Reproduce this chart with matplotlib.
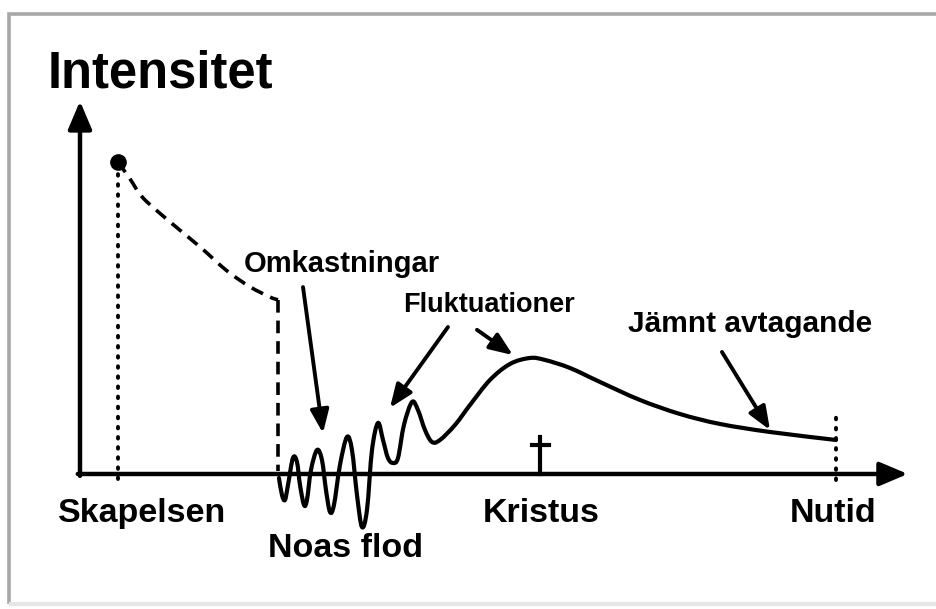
import numpy as np
import matplotlib
matplotlib.use('Agg')
import matplotlib.pyplot as plt
from matplotlib.patches import Rectangle, PathPatch
from matplotlib.path import Path

# time axis: 0 = Skapelsen, 100 = Nutid ; intensity: 0 = baseline
decay_t = [0.0, 1.67, 3.48, 7.24, 11.42, 15.18, 18.38, 21.17, 22.28]
decay_i = [100.0, 94.6, 88.5, 80.8, 72.8, 65.1, 60.0, 56.7, 55.8]

curve_t = [22.42, 22.84, 23.26, 23.68, 24.37, 24.93, 25.35, 25.91, 26.32, 26.88,
           27.72, 28.41, 28.97, 29.53, 30.08, 30.92, 31.89, 32.59, 33.29, 33.98,
           34.68, 35.38, 36.21, 36.91, 37.60, 38.30, 39.00, 39.83, 40.95, 41.78,
           42.76, 43.73, 44.85, 46.94, 49.03, 51.81, 54.60, 57.38, 59.47, 62.95,
           67.13, 72.70, 78.27, 83.84, 90.81, 100.0]
curve_i = [-1.28, -6.73, -8.33, -3.53, 5.13, 3.85, -3.53, -9.94, -8.33, 1.28,
           7.69, 4.49, -5.13, -12.18, -9.94, 2.88, 11.86, 7.69, -6.73, -16.99,
           -11.54, 7.69, 16.35, 10.90, 5.13, 3.53, 5.13, 15.71, 23.08, 20.51,
           14.10, 10.26, 10.90, 15.71, 22.12, 30.13, 35.26, 37.18, 36.54, 33.97,
           29.49, 23.72, 19.23, 16.03, 13.46, 10.90]

epoch_labels = ['Skapelsen', 'Noas flod', 'Kristus', 'Nutid']
epoch_t = [3.34, 31.75, 58.9, 99.6]
epoch_i = [-15.4, -26.6, -15.4, -15.4]

note_labels = ['Omkastningar', 'Fluktuationer', 'Jämnt avtagande']
note_t = [31.2, 51.67, 88.0]
note_i = [64.7, 51.9, 45.5]
arrow_from = [(25.77, 59.9), (45.96, 47.1), (50.0, 46.2), (84.12, 39.1)]
arrow_to = [(28.55, 13.1), (37.88, 21.2), (55.01, 38.1), (90.81, 14.1)]

kristus_t = 58.77
font = 'Liberation Sans'


def smooth_path(ax, xs, ys):
    # catmull-rom through the points, drawn as cubic bezier in pixel space
    pts = ax.transData.transform(np.column_stack([xs, ys]))
    n = len(pts)
    verts = [pts[0]]
    codes = [Path.MOVETO]
    for k in range(n - 1):
        p0 = pts[max(k - 1, 0)]
        p1 = pts[k]
        p2 = pts[k + 1]
        p3 = pts[min(k + 2, n - 1)]
        verts += [p1 + (p2 - p0) / 6, p2 - (p3 - p1) / 6, p2]
        codes += [Path.CURVE4] * 3
    verts = ax.transData.inverted().transform(np.array(verts))
    return Path(verts, codes)


fig = plt.figure(figsize=(9.36, 6.09), dpi=100)
ax = fig.add_axes([0, 0, 1, 1])
ax.set_xlim(-16.43, 113.93)
ax.set_ylim(-43.27, 151.9)
ax.axis('off')

# grey frame round the picture (bottom edge is faint in the original)
fig.patches.append(Rectangle((0.0096, 0.008), 1.2, 0.969, transform=fig.transFigure,
                             fill=False, edgecolor='#a8a8a8', lw=2.6))
fig.lines.append(plt.Line2D([0.012, 1], [0.008, 0.008], transform=fig.transFigure,
                            color='#e6e6e6', lw=3))

# axes with arrow heads
for xy, xytext in [((-5.29, 119.5), (-5.29, -0.6)), ((110.0, 0), (-5.6, 0))]:
    ax.annotate('', xy=xy, xytext=xytext,
                arrowprops=dict(arrowstyle='-|>,head_length=0.85,head_width=0.36',
                                mutation_scale=20, lw=3.2, color='black',
                                shrinkA=0, shrinkB=0))

# dotted guides
ax.plot([0, 0], [-1.5, 97], color='black', lw=2.8, linestyle=(0, (0.4, 2.2)),
        dash_capstyle='round')
ax.plot([100, 100], [-2, 20], color='black', lw=2.8, linestyle=(0, (0.4, 2.2)),
        dash_capstyle='round')

# dashed decay from creation
ax.add_patch(PathPatch(smooth_path(ax, decay_t, decay_i), fill=False, color='black',
                       lw=2.6, linestyle=(0, (3.5, 2.2))))
ax.plot([decay_t[-1], decay_t[-1]], [decay_i[-1], 1], color='black', lw=2.6,
        linestyle=(0, (3.5, 2.2)))
ax.plot(decay_t[0], decay_i[0], 'o', color='black', ms=11)

# the intensity curve
ax.add_patch(PathPatch(smooth_path(ax, curve_t, curve_i), fill=False, color='black',
                       lw=3.0, joinstyle='round', capstyle='round'))

# cross at Kristus
ax.plot([kristus_t, kristus_t], [0, 11.9], color='black', lw=3.0)
ax.plot([57.6, 60.1], [9.3, 9.3], color='black', lw=3.0)

# texts
ax.text(-9.75, 124.0, 'Intensitet', fontsize=36.5, fontweight='bold',
        family=font, ha='left', va='baseline')
for lab, t, i in zip(epoch_labels, epoch_t, epoch_i):
    ax.text(t, i, lab, fontsize=24.5, fontweight='bold', family=font,
            ha='center', va='baseline')

sizes = [21, 19.5, 21.5]
for lab, t, i, s in zip(note_labels, note_t, note_i, sizes):
    ax.text(t, i, lab, fontsize=s, fontweight='bold', family=font,
            ha='center', va='baseline')

for p0, p1 in zip(arrow_from, arrow_to):
    ax.annotate('', xy=p1, xytext=p0,
                arrowprops=dict(arrowstyle='-|>,head_length=0.7,head_width=0.28',
                                mutation_scale=20, lw=2.8, color='black',
                                shrinkA=0, shrinkB=0))

fig.savefig('out.png', dpi=100, facecolor='white')
